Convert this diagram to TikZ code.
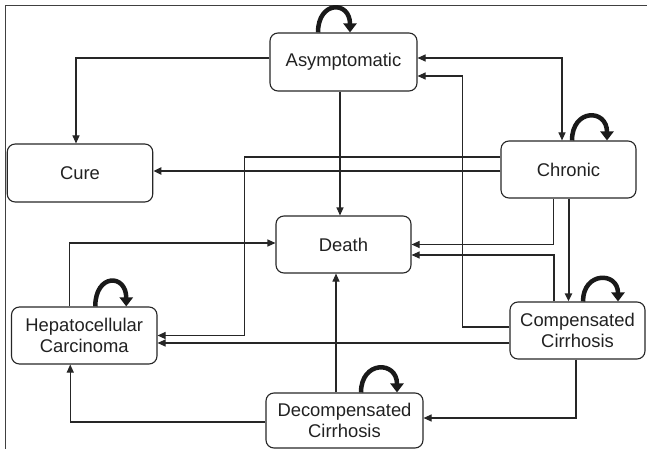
\documentclass[tikz,border=0pt]{standalone}
\usepackage{fontspec}
\setmainfont{Liberation Sans}
\usetikzlibrary{arrows.meta}
\begin{document}
\begin{tikzpicture}[x=1pt,y=-1pt,
  box/.style={draw=black!85, line width=1.1pt, rounded corners=8pt, align=center,
    inner sep=0pt, font=\fontsize{18.4}{21.7}\selectfont, text=black!87},
  con/.style={draw=black!85, line width=1.1pt, -{Triangle[length=8pt,width=7pt]}},
  boldcon/.style={con, line width=2pt},
  selfloop/.style={draw=black!90, line width=4.5pt, -{Triangle[length=9pt,width=13pt]}},
  frameline/.style={draw=black!75, line width=1pt}]
\useasboundingbox (0,0) rectangle (647,449);
% frame
\coordinate (ftl) at (5.8,6);
\coordinate (ftr) at (647,6);
\coordinate (fbl) at (5.8,449);
\draw[frameline] (ftr) -- (ftl) -- (fbl);
% nodes
\node[box, minimum width=147pt, minimum height=58pt] (asym) at (343.5,62) {Asymptomatic};
\node[box, minimum width=145.5pt, minimum height=58pt] (cure) at (80,173) {Cure};
\node[box, minimum width=135pt, minimum height=57pt] (chronic) at (568.5,169.5) {Chronic};
\node[box, minimum width=135pt, minimum height=57pt] (death) at (343.5,244.5) {Death};
\node[box, minimum width=145.5pt, minimum height=57pt] (hcc) at (84.25,335.5) {Hepatocellular\\Carcinoma};
\node[box, minimum width=135pt, minimum height=57pt] (cc) at (577.5,330.5) {Compensated\\Cirrhosis};
\node[box, minimum width=157pt, minimum height=55pt] (decomp) at (344.5,420.5) {Decompensated\\Cirrhosis};
% connectors
\draw[con] ([yshift=4pt]asym.west) -| ([xshift=-4pt]cure.north);
\draw[con, {Triangle[length=8pt,width=7pt]}-{Triangle[length=8pt,width=7pt]}] ([yshift=4pt]asym.east) -| ([xshift=-6.5pt]chronic.north);
\draw[con] ([yshift=3.5pt]cc.west) -- ++(-47,0) |- ([yshift=-14pt]asym.east);
\draw[con] ([xshift=-3.5pt]asym.south) -- ([xshift=-3.5pt]death.north);
\draw[boldcon] ([yshift=-1.5pt]chronic.west) -- ([yshift=2pt]cure.east);
\draw[con] ([yshift=12.5pt]chronic.west) -- ++(-256,0) |- (hcc.east);
\draw[con] ([xshift=-15pt]chronic.south) |- (death.east);
\draw[boldcon] (chronic.south) -- (chronic.south |- cc.north);
\draw[con] ([xshift=-23.5pt]cc.north) |- ([yshift=-10.5pt]death.east);
\draw[con] ([xshift=-15pt]hcc.north) |- ([yshift=1.5pt]death.west);
\draw[con] ([xshift=-8.5pt]decomp.north) -- ([xshift=-7.5pt]death.south);
\draw[con] ([yshift=-1.5pt]decomp.west) -| ([xshift=-14pt]hcc.south);
\draw[con] ([xshift=-1.5pt]cc.south) |- ([yshift=2.5pt]decomp.east);
\draw[con] ([yshift=-12.5pt]cc.west) -- ([yshift=-7.5pt]hcc.east);
% self loops
\draw[selfloop] ([xshift=-25.5pt]asym.north) .. controls +(0pt,32pt) and +(0pt,32pt) .. ([xshift=6.5pt]asym.north);
\draw[selfloop] ([xshift=3.5pt]chronic.north) .. controls +(0pt,32pt) and +(0pt,32pt) .. ([xshift=38.5pt]chronic.north);
\draw[selfloop] ([xshift=11pt]hcc.north) .. controls +(0pt,33pt) and +(0pt,33pt) .. ([xshift=42pt]hcc.north);
\draw[selfloop] ([xshift=5.5pt]cc.north) .. controls +(0pt,30pt) and +(0pt,30pt) .. ([xshift=40.5pt]cc.north);
\draw[selfloop] ([xshift=16.5pt]decomp.north) .. controls +(0pt,32pt) and +(0pt,32pt) .. ([xshift=52.5pt]decomp.north);
\end{tikzpicture}
\end{document}
